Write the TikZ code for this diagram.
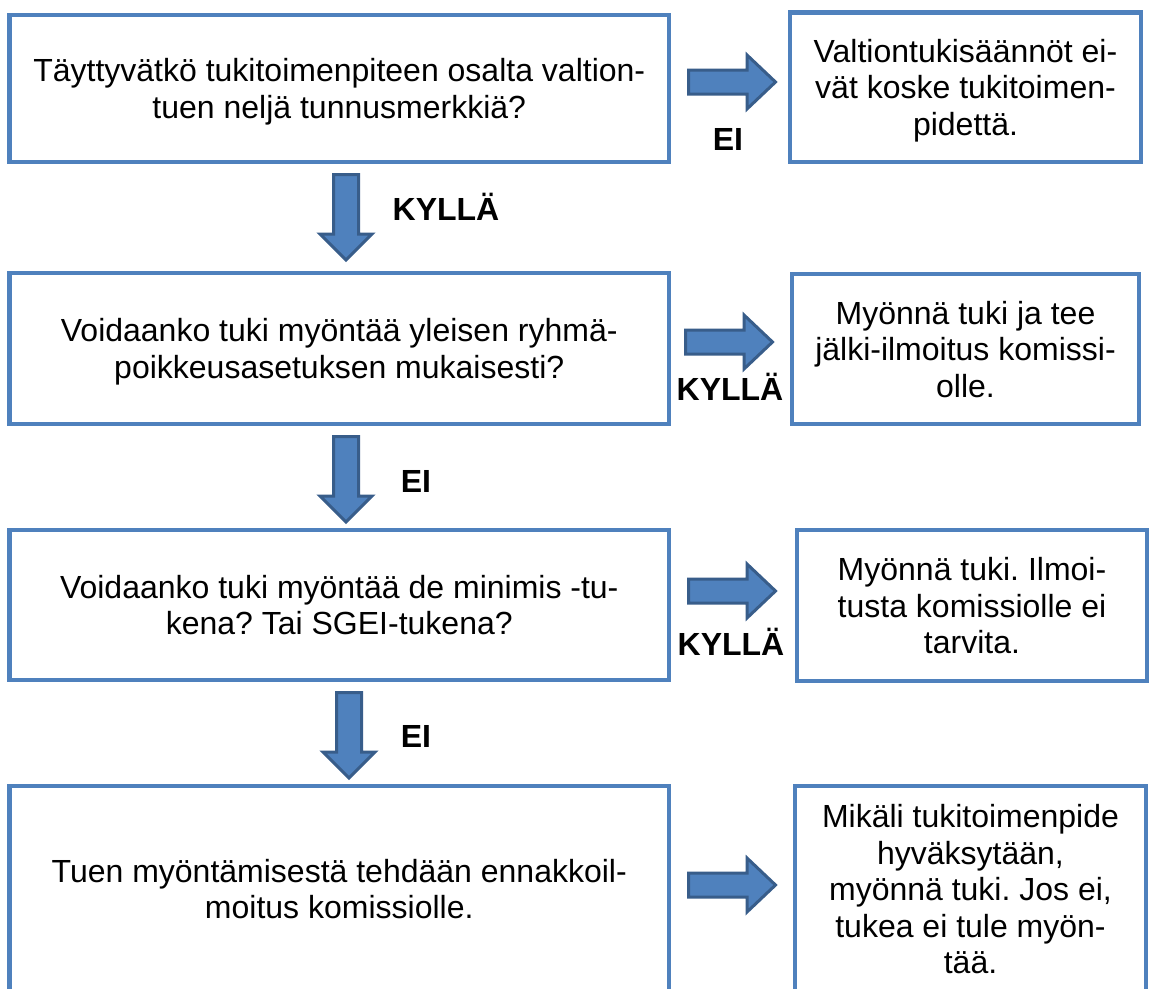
\documentclass[tikz,border=0pt]{standalone}
\usepackage{fontspec}
\setmainfont{Liberation Sans}
\frenchspacing
\definecolor{boxblue}{HTML}{4F81BD}
\definecolor{arrowline}{HTML}{385D8A}
\newcommand\firststrut{\rule{0pt}{31pt}}
\newcommand\laststrut{\rule[-8pt]{0pt}{8pt}}
\tikzset{
  qbox/.style={draw=boxblue, line width=4.5pt, fill=white, align=center, inner sep=0pt,
    font=\fontsize{32}{36.5}\selectfont},
  lbl/.style={font=\fontsize{32}{36.5}\selectfont\bfseries, anchor=base, inner sep=0pt},
  blockarrow/.style={fill=boxblue, draw=arrowline, line width=3pt, line join=miter}
}
\newcommand\rightblock[2]{%
  \draw[blockarrow] (#1+1.5,#2-12) -- (#1+60,#2-12) -- (#1+60,#2-27) -- (#1+88.5,#2)
    -- (#1+60,#2+27) -- (#1+60,#2+12) -- (#1+1.5,#2+12) -- cycle;}
\newcommand\downblock[2]{%
  \draw[blockarrow] (#1-12.5,#2+1.5) -- (#1+12.5,#2+1.5) -- (#1+12.5,#2+61) -- (#1+26,#2+61)
    -- (#1,#2+87) -- (#1-26,#2+61) -- (#1-12.5,#2+61) -- cycle;}
\begin{document}
\begin{tikzpicture}[x=1pt,y=-1pt]
\clip (0,0) rectangle (1150,988);
\fill[white] (0,0) rectangle (1150,988);

% left question boxes
\node[qbox, minimum width=659.5pt, minimum height=147pt] (q1) at (339.25,88.5)
  {\firststrut Täyttyvätkö tukitoimenpiteen osalta valtion-\\tuen neljä tunnusmerkkiä?\laststrut};
\node[qbox, minimum width=659.5pt, minimum height=151pt] (q2) at (339.25,348.5)
  {\firststrut Voidaanko tuki myöntää yleisen ryhmä-\\poikkeusasetuksen mukaisesti?\laststrut};
\node[qbox, minimum width=659.5pt, minimum height=150pt] (q3) at (339.25,605)
  {\firststrut Voidaanko tuki myöntää de minimis -tu-\\kena? Tai SGEI-tukena?\laststrut};
\node[qbox, minimum width=659.5pt, minimum height=206pt] (q4) at (339.25,889)
  {\firststrut Tuen myöntämisestä tehdään ennakkoil-\\moitus komissiolle.\laststrut};

% right answer boxes
\node[qbox, minimum width=351pt, minimum height=149.5pt] (a1) at (965.5,87.25)
  {\firststrut Valtiontukisäännöt ei-\\vät koske tukitoimen-\\pidettä.\laststrut};
\node[qbox, minimum width=347pt, minimum height=150pt] (a2) at (965.5,349)
  {\firststrut Myönnä tuki ja tee\\jälki-ilmoitus komissi-\\olle.\laststrut};
\node[qbox, minimum width=350pt, minimum height=151pt] (a3) at (972,605.5)
  {\firststrut Myönnä tuki. Ilmoi-\\tusta komissiolle ei\\tarvita.\laststrut};
\node[qbox, minimum width=351pt, minimum height=206pt] (a4) at (970.5,889)
  {\firststrut Mikäli tukitoimenpide\\hyväksytään,\\myönnä tuki. Jos ei,\\tukea ei tule myön-\\tää.\laststrut};

% block arrows
\rightblock{687}{82}
\rightblock{684}{342}
\rightblock{687}{591}
\rightblock{687}{885}
\downblock{346}{173}
\downblock{346}{435}
\downblock{349}{691}

% labels
\node[lbl] (l1) at (728,150) {EI};
\node[lbl] (l2) at (446,220) {KYLLÄ};
\node[lbl] (l3) at (730,400) {KYLLÄ};
\node[lbl] (l4) at (416,492) {EI};
\node[lbl] (l5) at (731,655) {KYLLÄ};
\node[lbl] (l6) at (416,747) {EI};
\end{tikzpicture}
\end{document}
